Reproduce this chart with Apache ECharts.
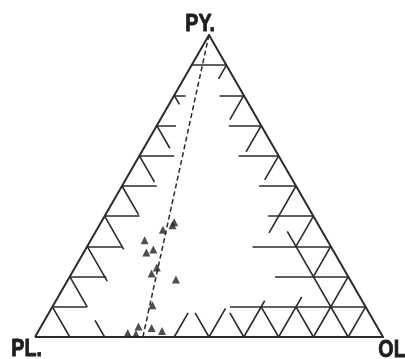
<!DOCTYPE html>
<html>
<head>
<meta charset="utf-8">
<script src="https://cdn.jsdelivr.net/npm/echarts@6/dist/echarts.min.js"></script>
<style>
  html, body { margin: 0; padding: 0; background: #fff; }
  #chart { width: 405px; height: 359px; }
</style>
</head>
<body>
<div id="chart"></div>
<script>
// corner labels: apex, base left, base right
var cornerLabels = ["PY.", "PL.", "OL"];

// samples, per cent of each end member
var samplePY = [38, 37, 35.5, 32, 28, 29, 23, 21, 19, 10.5, 3.5, 1.3, 1, 3, 2];
var sampleOL = [21, 21, 19, 15.5, 18, 19.5, 23.5, 23, 31, 28.5, 28, 26, 28.5, 32, 35.5];
var samplePL = [41, 42, 45.5, 52.5, 54, 51.5, 53.5, 56, 50, 61, 68.5, 72.7, 70.5, 65, 62.5];

// dashed trend: from the PY apex to the PL-OL side  [PY, OL]
var trendStart = [100, 0];
var trendEnd = [0, 31];

// edge ticks, length in tenths of a side (index 0 = first tick from the top / from PL)
var leftFlat = [1, 0.33, 0.55, 1, 1, 1, 1, 1.05, 1];
var leftSlant = [0, 0.3, 0.75, 0.87, 0.95, 1.1, 1.15, 1, 1];
var rightFlat = [0, 0.7, 0.93, 1.15, 1.06, 1.3, 2.25, 2.1, 3.9];
var rightSlant = [0.45, 0.8, 0.87, 0.8, 1.55, 1, 1, 2, 1];
var baseUpLeft = [0, 0.55, 0, 0, 0.8, 0.8, 1, 1, 3.5];
var baseUpRight = [0, 0, 0, 0.8, 0.95, 1.2, 1.33, 0, 0];

var H = Math.sqrt(3) / 2;
var ink = "#2b2b2b";

// ternary (PY, OL) -> plane
function toXY(py, ol) {
  return [ol + py / 2, py * H];
}

function seg(a, b) {
  return { coords: [toXY(a[0], a[1]), toXY(b[0], b[1])] };
}

var ticks = [];
for (var k = 1; k <= 9; k++) {
  var py = 100 - 10 * k;
  var i = k - 1;
  // left side (OL = 0)
  if (leftFlat[i]) ticks.push(seg([py, 0], [py, 10 * leftFlat[i]]));
  if (leftSlant[i]) ticks.push(seg([py, 0], [py - 10 * leftSlant[i], 10 * leftSlant[i]]));
  // right side (PL = 0)
  var ol = 10 * k;
  if (rightFlat[i]) ticks.push(seg([py, ol], [py, ol - 10 * rightFlat[i]]));
  if (rightSlant[i]) ticks.push(seg([py, ol], [py - 10 * rightSlant[i], ol]));
  // base (PY = 0)
  var olb = 10 * k;
  if (baseUpLeft[i]) ticks.push(seg([0, olb], [10 * baseUpLeft[i], olb - 10 * baseUpLeft[i]]));
  if (baseUpRight[i]) ticks.push(seg([0, olb], [10 * baseUpRight[i], olb]));
}

var points = samplePY.map(function (v, n) {
  return toXY(v, sampleOL[n]).concat([samplePL[n]]);
});

var chart = echarts.init(document.getElementById("chart"));
var labelFont = 'bold 24px "Liberation Sans", Arial, sans-serif';

function cornerText(txt, x, y) {
  return {
    type: "text", left: x, top: y, scaleX: 0.82,
    style: { text: txt, font: labelFont, fill: "#1e1e1e", stroke: "#1e1e1e", lineWidth: 0.9 }
  };
}

chart.setOption({
  animation: false,
  backgroundColor: "#fff",
  grid: { left: 35, right: 22, top: 35, bottom: 22 },
  xAxis: { type: "value", min: 0, max: 100, show: false },
  yAxis: { type: "value", min: 0, max: 100 * H, show: false },
  graphic: [
    cornerText(cornerLabels[0], 185, 12),
    cornerText(cornerLabels[1], 11, 337),
    cornerText(cornerLabels[2], 378, 338)
  ],
  series: [
    {
      type: "lines",
      coordinateSystem: "cartesian2d",
      polyline: true,
      silent: true,
      lineStyle: { color: ink, width: 2, opacity: 1 },
      data: [{ coords: [toXY(0, 0), toXY(0, 100), toXY(100, 0), toXY(0, 0)] }]
    },
    {
      type: "lines",
      coordinateSystem: "cartesian2d",
      silent: true,
      lineStyle: { color: ink, width: 1.6, opacity: 1 },
      data: ticks
    },
    {
      type: "lines",
      coordinateSystem: "cartesian2d",
      silent: true,
      lineStyle: { color: ink, width: 1.5, opacity: 1, type: [5, 3] },
      data: [seg(trendStart, trendEnd)]
    },
    {
      type: "scatter",
      symbol: "triangle",
      symbolSize: 8,
      itemStyle: { color: "#222" },
      data: points
    }
  ]
});
</script>
</body>
</html>
